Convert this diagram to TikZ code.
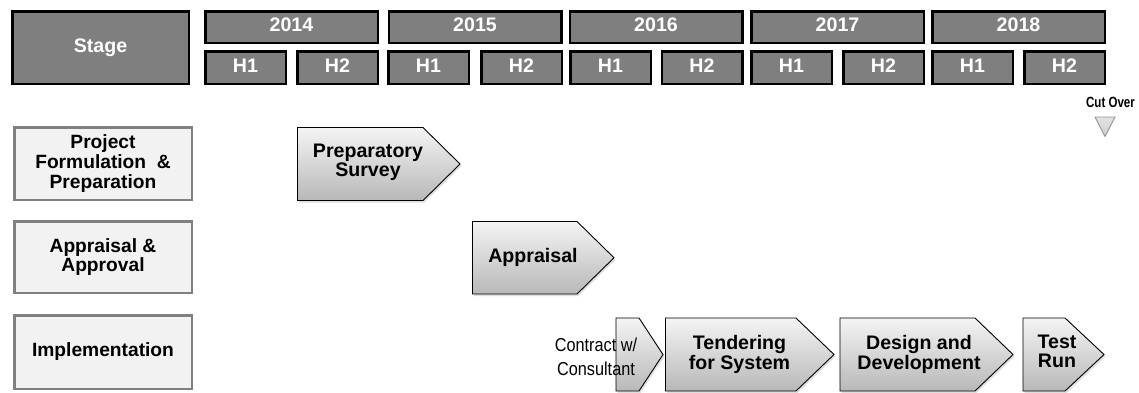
\documentclass[tikz,border=0pt]{standalone}
\usepackage{fontspec}
\setmainfont{Liberation Sans}
\newfontfamily\condfont[FakeStretch=0.87]{Liberation Sans}
\newfontfamily\narrowfont[FakeStretch=0.78]{Liberation Sans}
\usetikzlibrary{shadows}

\definecolor{hdrgray}{HTML}{7F7F7F}
\definecolor{stagefill}{HTML}{F2F2F2}
\definecolor{stageline}{HTML}{808080}
\definecolor{chevtop}{HTML}{F4F4F4}
\definecolor{chevbottom}{HTML}{B8B8B8}

\tikzset{
  hdr/.style={draw=black, line width=2.5pt, fill=hdrgray, text=white,
    font=\fontsize{19.6}{20}\selectfont\bfseries, inner sep=0pt, text depth=4pt},
  yearbox/.style={hdr, minimum width=172.5pt, minimum height=31.5pt},
  halfbox/.style={hdr, minimum width=80.5pt, minimum height=32.5pt},
  stagebox/.style={draw=stageline, line width=2.5pt, fill=stagefill,
    font=\fontsize{19.2}{19.8}\selectfont\bfseries, align=center, inner sep=0pt,
    minimum width=177.5pt},
  chev/.style={draw=black, line width=0.9pt, top color=chevtop, bottom color=chevbottom,
    drop shadow={opacity=0.25, shadow xshift=1.5pt, shadow yshift=-2pt}},
  chevtext/.style={font=\fontsize{19.6}{19.2}\selectfont\bfseries, align=center, inner sep=0pt},
  smalltext/.style={font=\fontsize{18.7}{23.5}\selectfont\condfont, align=center, inner sep=0pt},
  cuttext/.style={font=\fontsize{14.8}{16}\selectfont\narrowfont\bfseries, inner sep=0pt, anchor=base},
  cuttri/.style={draw=gray!85, line width=0.9pt, top color=gray!22, bottom color=gray!38}
}

% chevron outline: left, shoulder, tip, top, bottom
\newcommand\chevshape[5]{%
  \path[chev] (#1,#4) -- (#2,#4) -- (#3,{(#4+#5)/2}) -- (#2,#5) -- (#1,#5) -- cycle;}

\begin{document}
\begin{tikzpicture}[x=1pt,y=-1pt]
\useasboundingbox (0,0) rectangle (1139,392);

% header row
\node[hdr, minimum width=176.5pt, minimum height=72.5pt] (stage) at (100.5,47.5) {Stage};

\node[yearbox] (y2014) at (291.5,27) {2014};
\node[yearbox] (y2015) at (475,27) {2015};
\node[yearbox] (y2016) at (656,27) {2016};
\node[yearbox] (y2017) at (837.5,27) {2017};
\node[yearbox] (y2018) at (1018.5,27) {2018};

\node[halfbox] (h14a) at (245.5,67.5) {H1};
\node[halfbox] (h14b) at (337.5,67.5) {H2};
\node[halfbox] (h15a) at (428.5,67.5) {H1};
\node[halfbox] (h15b) at (521.5,67.5) {H2};
\node[halfbox] (h16a) at (610.5,67.5) {H1};
\node[halfbox] (h16b) at (702,67.5) {H2};
\node[halfbox] (h17a) at (791.5,67.5) {H1};
\node[halfbox] (h17b) at (883.5,67.5) {H2};
\node[halfbox] (h18a) at (972.5,67.5) {H1};
\node[halfbox] (h18b) at (1064.5,67.5) {H2};

% cut over marker
\node[cuttext] (cutlabel) at (1110.5,107.5) {Cut Over};
\path[cuttri] (1095,117) -- (1115,117) -- (1105,136.5) -- cycle;

% stage column
\node[stagebox, minimum height=72.5pt] (sform) at (103,163.5) {Project\\Formulation \ \&\\Preparation};
\node[stagebox, minimum height=71.5pt] (sappr) at (103,257) {Appraisal \&\\Approval};
\node[stagebox, minimum height=73.5pt] (simpl) at (103,352) {Implementation};

% activity chevrons
\chevshape{297.5}{423}{460}{127.5}{200.5}
\node[chevtext] (prep) at (368,162.5) {Preparatory\\Survey};

\chevshape{472.5}{577}{614}{221.5}{294}
\node[chevtext] (appr) at (533,257.5) {Appraisal};

\chevshape{616}{639}{663}{318}{391}
\chevshape{665.5}{796}{834}{318}{391}
\chevshape{840}{975}{1013}{318}{391}
\chevshape{1023}{1065}{1104}{318}{391}

\node[smalltext] (consult) at (596,357) {Contract w/\\Consultant};
\node[chevtext] (tender) at (739.5,354.4) {Tendering\\for System};
\node[chevtext] (design) at (919,354.5) {Design and\\Development};
\node[chevtext] (test) at (1057,351) {Test\\Run};
\end{tikzpicture}
\end{document}
